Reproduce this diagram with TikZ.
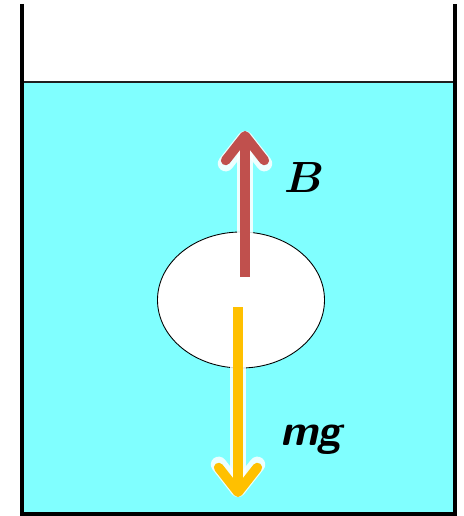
\documentclass[tikz,border=0pt]{standalone}
\usepackage{amsmath,amssymb}
\usepackage{tikz}
\usetikzlibrary{arrows.meta,calc,positioning,shapes.geometric}
\definecolor{water}{HTML}{80FFFF}
\definecolor{red}{HTML}{C0504D}
\definecolor{orange}{HTML}{FFC000}
\definecolor{wall}{HTML}{202020}

\begin{document}
\begin{tikzpicture}[x=0.02cm,y=-0.02cm,>={Straight Barb[width=22pt,length=14pt,round]}]
        \useasboundingbox (0,0) rectangle (463,516);
        % water and container
        \fill[water] (22,82) rectangle (455,514);
        \draw[wall,line width=1.4pt] (22,82) -- (455,82);
        \draw[black,line width=1.8pt] (22,4) -- (22,514) -- (455,514) -- (455,4);
        % ball
        \node[ellipse,draw=black,fill=white,line width=0.5pt,minimum width=167*0.02cm,minimum height=136*0.02cm,inner sep=0pt] (ball) at (241,300) {};
        \coordinate (bs) at (245,277);
        \coordinate (bt) at (245,131);
        \coordinate (gs) at (238,307);
        \coordinate (gt) at (238,497);
        % forces
        \draw[->,white,line width=9pt,opacity=0.85] (bs) -- (bt);
        \draw[->,red,line width=5.5pt] (bs) -- (bt);
        \draw[->,white,line width=9pt,opacity=0.85] (gs) -- (gt);
        \draw[->,orange,line width=5.5pt] (gs) -- (gt);
        \node[font=\Huge] (B) at (304,178) {$\boldsymbol{B}$};
        \node[font=\Huge\sffamily\bfseries\itshape] (mg) at (311,440) {mg};
      \end{tikzpicture}
\end{document}
